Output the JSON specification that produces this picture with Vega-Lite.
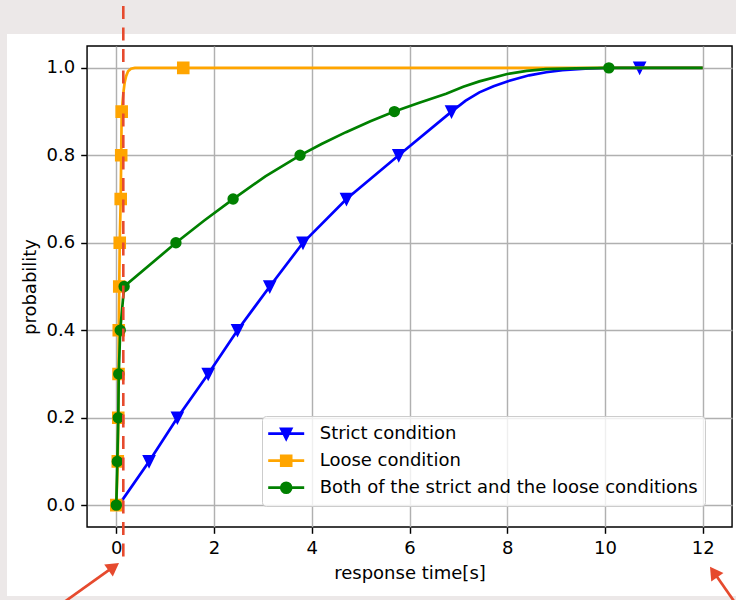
{
  "$schema": "https://vega.github.io/schema/vega-lite/v6.json",
  "width": 645,
  "height": 481,
  "autosize": {"type": "none"},
  "padding": {"left": 87, "top": 46, "right": 4, "bottom": 73},
  "background": "white",
  "datasets": {
    "cdf": [
      {"s": "Strict condition", "t": 0.05, "p": 0.0, "m": 0},
      {"s": "Strict condition", "t": 0.67, "p": 0.1, "m": 1},
      {"s": "Strict condition", "t": 1.25, "p": 0.2, "m": 1},
      {"s": "Strict condition", "t": 1.88, "p": 0.3, "m": 1},
      {"s": "Strict condition", "t": 2.48, "p": 0.4, "m": 1},
      {"s": "Strict condition", "t": 3.14, "p": 0.5, "m": 1},
      {"s": "Strict condition", "t": 3.82, "p": 0.6, "m": 1},
      {"s": "Strict condition", "t": 4.71, "p": 0.7, "m": 1},
      {"s": "Strict condition", "t": 5.78, "p": 0.8, "m": 1},
      {"s": "Strict condition", "t": 6.86, "p": 0.9, "m": 1},
      {"s": "Strict condition", "t": 7.15, "p": 0.925, "m": 0},
      {"s": "Strict condition", "t": 7.43, "p": 0.944, "m": 0},
      {"s": "Strict condition", "t": 7.72, "p": 0.958, "m": 0},
      {"s": "Strict condition", "t": 8.0, "p": 0.969, "m": 0},
      {"s": "Strict condition", "t": 8.45, "p": 0.983, "m": 0},
      {"s": "Strict condition", "t": 8.8, "p": 0.99, "m": 0},
      {"s": "Strict condition", "t": 9.13, "p": 0.995, "m": 0},
      {"s": "Strict condition", "t": 9.6, "p": 0.998, "m": 0},
      {"s": "Strict condition", "t": 10.08, "p": 1.0, "m": 0},
      {"s": "Strict condition", "t": 10.71, "p": 1.0, "m": 1},
      {"s": "Strict condition", "t": 12.0, "p": 1.0, "m": 0},
      {"s": "Loose condition", "t": 0.0, "p": 0.0, "m": 1},
      {"s": "Loose condition", "t": 0.03, "p": 0.1, "m": 1},
      {"s": "Loose condition", "t": 0.04, "p": 0.2, "m": 1},
      {"s": "Loose condition", "t": 0.045, "p": 0.3, "m": 1},
      {"s": "Loose condition", "t": 0.05, "p": 0.4, "m": 1},
      {"s": "Loose condition", "t": 0.06, "p": 0.5, "m": 1},
      {"s": "Loose condition", "t": 0.07, "p": 0.6, "m": 1},
      {"s": "Loose condition", "t": 0.09, "p": 0.7, "m": 1},
      {"s": "Loose condition", "t": 0.1, "p": 0.8, "m": 1},
      {"s": "Loose condition", "t": 0.11, "p": 0.9, "m": 1},
      {"s": "Loose condition", "t": 0.13, "p": 0.925, "m": 0},
      {"s": "Loose condition", "t": 0.15, "p": 0.948, "m": 0},
      {"s": "Loose condition", "t": 0.17, "p": 0.966, "m": 0},
      {"s": "Loose condition", "t": 0.2, "p": 0.981, "m": 0},
      {"s": "Loose condition", "t": 0.24, "p": 0.992, "m": 0},
      {"s": "Loose condition", "t": 0.3, "p": 0.998, "m": 0},
      {"s": "Loose condition", "t": 0.38, "p": 1.0, "m": 0},
      {"s": "Loose condition", "t": 1.37, "p": 1.0, "m": 1},
      {"s": "Loose condition", "t": 12.0, "p": 1.0, "m": 0},
      {"s": "Both of the strict and the loose conditions", "t": 0.0, "p": 0.0, "m": 1},
      {"s": "Both of the strict and the loose conditions", "t": 0.02, "p": 0.1, "m": 1},
      {"s": "Both of the strict and the loose conditions", "t": 0.04, "p": 0.2, "m": 1},
      {"s": "Both of the strict and the loose conditions", "t": 0.05, "p": 0.3, "m": 1},
      {"s": "Both of the strict and the loose conditions", "t": 0.08, "p": 0.4, "m": 1},
      {"s": "Both of the strict and the loose conditions", "t": 0.16, "p": 0.5, "m": 1},
      {"s": "Both of the strict and the loose conditions", "t": 1.22, "p": 0.6, "m": 1},
      {"s": "Both of the strict and the loose conditions", "t": 1.8, "p": 0.651, "m": 0},
      {"s": "Both of the strict and the loose conditions", "t": 2.39, "p": 0.7, "m": 1},
      {"s": "Both of the strict and the loose conditions", "t": 3.05, "p": 0.752, "m": 0},
      {"s": "Both of the strict and the loose conditions", "t": 3.76, "p": 0.8, "m": 1},
      {"s": "Both of the strict and the loose conditions", "t": 4.2, "p": 0.826, "m": 0},
      {"s": "Both of the strict and the loose conditions", "t": 4.7, "p": 0.853, "m": 0},
      {"s": "Both of the strict and the loose conditions", "t": 5.2, "p": 0.878, "m": 0},
      {"s": "Both of the strict and the loose conditions", "t": 5.69, "p": 0.9, "m": 1},
      {"s": "Both of the strict and the loose conditions", "t": 6.2, "p": 0.92, "m": 0},
      {"s": "Both of the strict and the loose conditions", "t": 6.75, "p": 0.941, "m": 0},
      {"s": "Both of the strict and the loose conditions", "t": 7.1, "p": 0.957, "m": 0},
      {"s": "Both of the strict and the loose conditions", "t": 7.43, "p": 0.969, "m": 0},
      {"s": "Both of the strict and the loose conditions", "t": 8.0, "p": 0.986, "m": 0},
      {"s": "Both of the strict and the loose conditions", "t": 8.4, "p": 0.993, "m": 0},
      {"s": "Both of the strict and the loose conditions", "t": 8.79, "p": 0.997, "m": 0},
      {"s": "Both of the strict and the loose conditions", "t": 9.4, "p": 0.999, "m": 0},
      {"s": "Both of the strict and the loose conditions", "t": 10.08, "p": 1.0, "m": 1},
      {"s": "Both of the strict and the loose conditions", "t": 12.0, "p": 1.0, "m": 0}
    ]
  },
  "layer": [
    {"data": {"values": [{"k": 1}]}, "mark": {"type": "rect", "color": "#ece8e8", "clip": false},
     "encoding": {"x": {"datum": -2.3805, "type": "quantitative"}, "x2": {"datum": 12.6818}, "y": {"datum": 1.1552, "type": "quantitative"}, "y2": {"datum": 1.07744}}},
    {"data": {"values": [{"k": 1}]}, "mark": {"type": "rect", "color": "#ece8e8", "clip": false},
     "encoding": {"x": {"datum": -2.3805, "type": "quantitative"}, "x2": {"datum": -2.2372}, "y": {"datum": 1.07744, "type": "quantitative"}, "y2": {"datum": -0.2172}}},
    {"data": {"values": [{"k": 1}]}, "mark": {"type": "rect", "color": "#ece8e8", "clip": false},
     "encoding": {"x": {"datum": -2.3805, "type": "quantitative"}, "x2": {"datum": 12.6818}, "y": {"datum": -0.2078, "type": "quantitative"}, "y2": {"datum": -0.2172}}},
    {"data": {"name": "cdf"}, "transform": [{"filter": "datum.s == 'Strict condition'"}],
     "mark": {"type": "line", "strokeWidth": 2.7},
     "encoding": {
       "x": {"field": "t", "type": "quantitative", "scale": {"domain": [-0.6, 12.6], "nice": false, "zero": false}, "axis": {"title": "response time[s]", "values": [0, 2, 4, 6, 8, 10, 12], "format": "d"}},
       "y": {"field": "p", "type": "quantitative", "scale": {"domain": [-0.05, 1.05], "nice": false, "zero": false}, "axis": {"title": "probability", "values": [0, 0.2, 0.4, 0.6, 0.8, 1.0], "format": ".1f"}},
       "color": {"field": "s", "type": "nominal", "scale": {"domain": ["Strict condition", "Loose condition", "Both of the strict and the loose conditions"], "range": ["#0000ff", "#ffa500", "#008000"]},
       "legend": {"title": null, "encode": {"symbols": {"update": {
         "shape": {"signal": "datum.value === 'Strict condition' ? 'M-2,0H2M-0.55,-0.55L0.55,-0.55L0,0.55Z' : datum.value === 'Loose condition' ? 'M-2,0H2M-0.55,-0.55H0.55V0.55H-0.55Z' : 'M-2,0H2M-0.55,0A0.55,0.55,0,1,1,0.55,0A0.55,0.55,0,1,1,-0.55,0Z'"},
         "fill": {"signal": "scale('color', datum.value)"}, "fillOpacity": {"value": 1},
         "stroke": {"signal": "scale('color', datum.value)"}, "strokeWidth": {"value": 2.7}, "opacity": {"value": 1}}}}}}}},
    {"data": {"name": "cdf"}, "transform": [{"filter": "datum.s == 'Strict condition' && datum.m == 1"}],
     "mark": {"type": "point", "filled": true, "opacity": 1, "color": "#0000ff", "stroke": "#0000ff", "strokeWidth": 1.8, "shape": "M-1,-1L1,-1L0,1Z", "size": 116},
     "encoding": {"x": {"field": "t", "type": "quantitative"}, "y": {"field": "p", "type": "quantitative"}}},
    {"data": {"name": "cdf"}, "transform": [{"filter": "datum.s == 'Loose condition'"}],
     "mark": {"type": "line", "strokeWidth": 2.7},
     "encoding": {"x": {"field": "t", "type": "quantitative"}, "y": {"field": "p", "type": "quantitative"},
       "color": {"field": "s", "type": "nominal", "scale": {"domain": ["Strict condition", "Loose condition", "Both of the strict and the loose conditions"], "range": ["#0000ff", "#ffa500", "#008000"]}, "legend": {"title": null}}}},
    {"data": {"name": "cdf"}, "transform": [{"filter": "datum.s == 'Loose condition' && datum.m == 1"}],
     "mark": {"type": "point", "filled": true, "opacity": 1, "color": "#ffa500", "stroke": "#ffa500", "strokeWidth": 1.8, "shape": "square", "size": 116},
     "encoding": {"x": {"field": "t", "type": "quantitative"}, "y": {"field": "p", "type": "quantitative"}}},
    {"data": {"name": "cdf"}, "transform": [{"filter": "datum.s == 'Both of the strict and the loose conditions'"}],
     "mark": {"type": "line", "strokeWidth": 2.7},
     "encoding": {"x": {"field": "t", "type": "quantitative"}, "y": {"field": "p", "type": "quantitative"},
       "color": {"field": "s", "type": "nominal", "scale": {"domain": ["Strict condition", "Loose condition", "Both of the strict and the loose conditions"], "range": ["#0000ff", "#ffa500", "#008000"]}, "legend": {"title": null}}}},
    {"data": {"name": "cdf"}, "transform": [{"filter": "datum.s == 'Both of the strict and the loose conditions' && datum.m == 1"}],
     "mark": {"type": "point", "filled": true, "opacity": 1, "color": "#008000", "stroke": "#008000", "strokeWidth": 1.8, "shape": "circle", "size": 92},
     "encoding": {"x": {"field": "t", "type": "quantitative"}, "y": {"field": "p", "type": "quantitative"}}},
    {"data": {"values": [{"k": 1}]}, "mark": {"type": "rule", "color": "#e64a2e", "strokeWidth": 2.6, "strokeDash": [13, 8.5], "clip": false},
     "encoding": {"x": {"datum": 0.1429, "type": "quantitative"}, "y": {"datum": 1.14148, "type": "quantitative"}, "y2": {"datum": -0.1369}}},
    {"data": {"values": [{"k": 1}]}, "mark": {"type": "rule", "color": "#e64a2e", "strokeWidth": 2.7, "clip": false},
     "encoding": {"x": {"datum": -1.1526, "type": "quantitative"}, "y": {"datum": -0.2284, "type": "quantitative"}, "x2": {"datum": -0.0522}, "y2": {"datum": -0.14083}}},
    {"data": {"values": [{"k": 1}]}, "mark": {"type": "point", "shape": "triangle-up", "filled": true, "opacity": 1, "color": "#e64a2e", "size": 220, "angle": 54.6, "clip": false},
     "encoding": {"x": {"datum": -0.0522, "type": "quantitative"}, "y": {"datum": -0.14083, "type": "quantitative"}}},
    {"data": {"values": [{"k": 1}]}, "mark": {"type": "rule", "color": "#e64a2e", "strokeWidth": 2.7, "clip": false},
     "encoding": {"x": {"datum": 12.696, "type": "quantitative"}, "y": {"datum": -0.2284, "type": "quantitative"}, "x2": {"datum": 12.2249}, "y2": {"datum": -0.15284}}},
    {"data": {"values": [{"k": 1}]}, "mark": {"type": "point", "shape": "triangle-up", "filled": true, "opacity": 1, "color": "#e64a2e", "size": 220, "angle": 325.1, "clip": false},
     "encoding": {"x": {"datum": 12.2249, "type": "quantitative"}, "y": {"datum": -0.15284, "type": "quantitative"}}}
  ],
  "config": {
    "font": "DejaVu Sans",
    "view": {"stroke": "black", "strokeWidth": 1.44},
    "axis": {
      "labelFont": "DejaVu Sans", "labelFontSize": 18, "labelColor": "black",
      "titleFont": "DejaVu Sans", "titleFontSize": 18, "titleFontWeight": "normal", "titleColor": "black",
      "tickColor": "black", "tickSize": 6.3, "tickWidth": 1.44, "domain": false,
      "grid": true, "gridColor": "#b0b0b0", "gridWidth": 1.44,
      "labelPadding": 6, "titlePadding": 7, "labelFlush": false, "labelOverlap": false
    },
    "legend": {
      "orient": "none", "legendX": 175, "legendY": 370,
      "labelFont": "DejaVu Sans", "labelFontSize": 18, "labelColor": "black",
      "padding": 7.2, "rowPadding": 6, "symbolSize": 324, "symbolStrokeWidth": 2.7,
      "symbolOffset": 6.5, "labelOffset": 23,
      "fillColor": "rgba(255,255,255,0.8)", "strokeColor": "#cccccc", "cornerRadius": 4,
      "symbolType": "M-2,0H2",
      "labelLimit": 600
    }
  }
}
